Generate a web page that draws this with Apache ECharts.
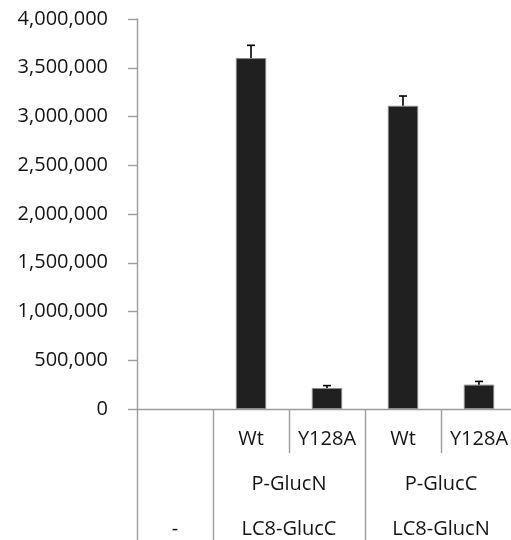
<!DOCTYPE html>
<html>
<head>
<meta charset="utf-8">
<script src="https://cdn.jsdelivr.net/npm/echarts@6/dist/echarts.min.js"></script>
<style>
  html, body { margin: 0; padding: 0; background: #fff; }
  #chart { width: 511px; height: 540px; }
</style>
</head>
<body>
<div id="chart"></div>
<script>
// Column header rows of the table under the plot (top to bottom)
const variants = ['', 'Wt', 'Y128A', 'Wt', 'Y128A'];
const preys = ['', 'P-GlucN', 'P-GlucN', 'P-GlucC', 'P-GlucC'];
const baits = ['-', 'LC8-GlucC', 'LC8-GlucC', 'LC8-GlucN', 'LC8-GlucN'];

// Luminescence signal and its error (upper bar only)
const signal = [null, 3600000, 215000, 3110000, 250000];
const signalErr = [null, 130000, 25000, 100000, 33000];

// Y axis ticks
const yMin = 0;
const yMax = 4000000;
const yStep = 500000;

const rows = [variants, preys, baits];
const nCols = variants.length;
const lineColor = '#9c9c9c';
const lineWidth = 1.4;
const textColor = '#141414';
const fontFamily = '"Open Sans", sans-serif';
const fontSize = 20;
const rowH = 44;

// Runs of identical labels in a row -> merged cells
function mergedCells(row) {
  const out = [];
  let start = 0;
  for (let i = 1; i <= row.length; i++) {
    if (i === row.length || row[i] !== row[start]) {
      out.push({ text: row[start], start: start, end: i - 1 });
      start = i;
    }
  }
  return out;
}

// How many rows a column boundary cuts through
function boundaryDepth(b) {
  let depth = 0;
  rows.forEach(function (row, r) {
    if (b === 0 || b === nCols || row[b - 1] !== row[b]) depth = r + 1;
  });
  return depth;
}

const boundaries = [];
for (let b = 0; b <= nCols; b++) boundaries.push(b);

// One overlaid value axis per table row: divider lines + merged-cell labels
const tableAxes = rows.map(function (row, r) {
  const cells = mergedCells(row);
  const labelMap = {};
  cells.forEach(function (c) {
    if (c.text !== '') labelMap[String((c.start + c.end + 1) / 2)] = c.text;
  });
  const ticks = boundaries.filter(function (b) { return boundaryDepth(b) === r + 1; });
  return {
    type: 'value',
    gridIndex: 0,
    position: 'bottom',
    min: 0,
    max: nCols,
    axisLine: { show: false },
    splitLine: { show: false },
    axisTick: {
      show: ticks.length > 0,
      customValues: ticks,
      length: rowH * (r + 1) + (r === rows.length - 1 ? 12 : 0),
      lineStyle: { color: lineColor, width: lineWidth }
    },
    axisLabel: {
      show: r > 0,
      customValues: Object.keys(labelMap).map(Number),
      formatter: function (v) { return labelMap[String(v)] || ''; },
      margin: 30 + 45 * r,
      verticalAlign: 'middle',
      color: textColor,
      fontFamily: fontFamily,
      fontSize: fontSize
    }
  };
});

const errData = [];
signal.forEach(function (v, i) {
  if (v != null) errData.push([i, v, signalErr[i]]);
});

const chart = echarts.init(document.getElementById('chart'));
chart.setOption({
  animation: false,
  backgroundColor: '#ffffff',
  grid: {
    left: 137,
    right: -6,
    top: 19,
    bottom: 131,
    containLabel: false,
    outerBoundsMode: 'none'
  },
  xAxis: [{
    type: 'category',
    gridIndex: 0,
    position: 'bottom',
    data: variants,
    axisLine: { show: true, lineStyle: { color: lineColor, width: lineWidth } },
    axisTick: { show: false },
    axisLabel: {
      interval: 0,
      margin: 30,
      verticalAlign: 'middle',
      color: textColor,
      fontFamily: fontFamily,
      fontSize: fontSize
    }
  }].concat(tableAxes),
  yAxis: {
    type: 'value',
    min: yMin,
    max: yMax,
    interval: yStep,
    axisLine: { show: true, lineStyle: { color: lineColor, width: lineWidth } },
    axisTick: { show: true, length: 9, lineStyle: { color: lineColor, width: lineWidth } },
    splitLine: { show: false },
    axisLabel: {
      margin: 29,
      color: textColor,
      fontFamily: fontFamily,
      fontSize: fontSize,
      formatter: function (v) { return v.toLocaleString('en-US'); }
    }
  },
  series: [{
    type: 'bar',
    xAxisIndex: 0,
    yAxisIndex: 0,
    data: signal,
    barWidth: '40%',
    itemStyle: { color: '#202020', borderColor: '#8a8a8a', borderWidth: 1 }
  }, {
    type: 'custom',
    xAxisIndex: 0,
    yAxisIndex: 0,
    data: errData,
    encode: { x: 0, y: 1 },
    z: 3,
    renderItem: function (params, api) {
      const x = api.value(0);
      const v = api.value(1);
      const e = api.value(2);
      const base = api.coord([x, v]);
      const top = api.coord([x, v + e]);
      const half = 4;
      const style = { stroke: '#000000', lineWidth: 1.6 };
      return {
        type: 'group',
        children: [
          { type: 'line', shape: { x1: base[0], y1: base[1], x2: top[0], y2: top[1] }, style: style },
          { type: 'line', shape: { x1: top[0] - half, y1: top[1], x2: top[0] + half, y2: top[1] }, style: style }
        ]
      };
    }
  }]
});
</script>
</body>
</html>
